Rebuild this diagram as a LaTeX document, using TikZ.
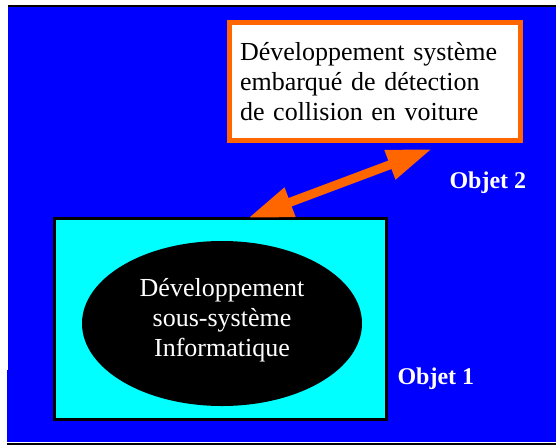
\documentclass[tikz,border=0pt]{standalone}
\usepackage{fontspec}
\setmainfont{Liberation Serif}
\usepackage{tikz}
\usetikzlibrary{positioning, arrows.meta, shapes.geometric}
\definecolor{cBg}{RGB}{0,0,255}
\definecolor{cBox}{RGB}{0,255,255}
\definecolor{cOr}{RGB}{255,102,0}

\begin{document}
\begin{tikzpicture}[x=1pt, y=-1pt,
    every node/.style={font=\fontsize{26pt}{30pt}\selectfont},
    sysbox/.style={rectangle, draw=cOr, line width=5pt, fill=white, inner sep=0pt, minimum width=291pt, minimum height=118pt, text width=270pt, align=left},
    objbox/.style={rectangle, draw=black, line width=3pt, fill=cBox, minimum width=332pt, minimum height=201pt},
    infobulle/.style={ellipse, fill=black, minimum width=280pt, minimum height=165pt},
    objlabel/.style={anchor=base west, text=white, font=\fontsize{24pt}{28pt}\selectfont\bfseries},
    link/.style={{Triangle[length=45pt,width=29pt]}-{Triangle[length=45pt,width=29pt]}, draw=cOr, line width=9pt}]
    \useasboundingbox (0,0) rectangle (556,445);
    % Background
    \fill[white] (0,0) rectangle (556,445);
    \fill[cBg] (8,7) rectangle (556,442);
    \fill[cBg] (7,370) rectangle (9,442);
    \draw[line width=2pt] (7.5,6) -- (556,6);
    \draw[line width=2pt] (7,443.5) -- (556,443.5);

    % Objects
    \node[sysbox] (sys) at (375,81.5) {D\'eveloppement syst\`eme\\embarqu\'e de d\'etection\\de collision en voiture};
    \node[objbox] (obj) at (220.5,319) {};
    \node[infobulle] (info) at (222,323.5) {};
    \node[text=white, align=center] (infotext) at ([yshift=3pt]info.center) {D\'eveloppement\\sous-syst\`eme\\Informatique};
    \node[objlabel] (obj2) at (446,188) {Objet 2};
    \node[objlabel] (obj1) at (394,384) {Objet 1};

    % Link
    \coordinate (tipA) at (248,218);
    \coordinate (tipB) at (432,149);
    \draw[link] (tipA) -- (tipB);
\end{tikzpicture}
\end{document}
